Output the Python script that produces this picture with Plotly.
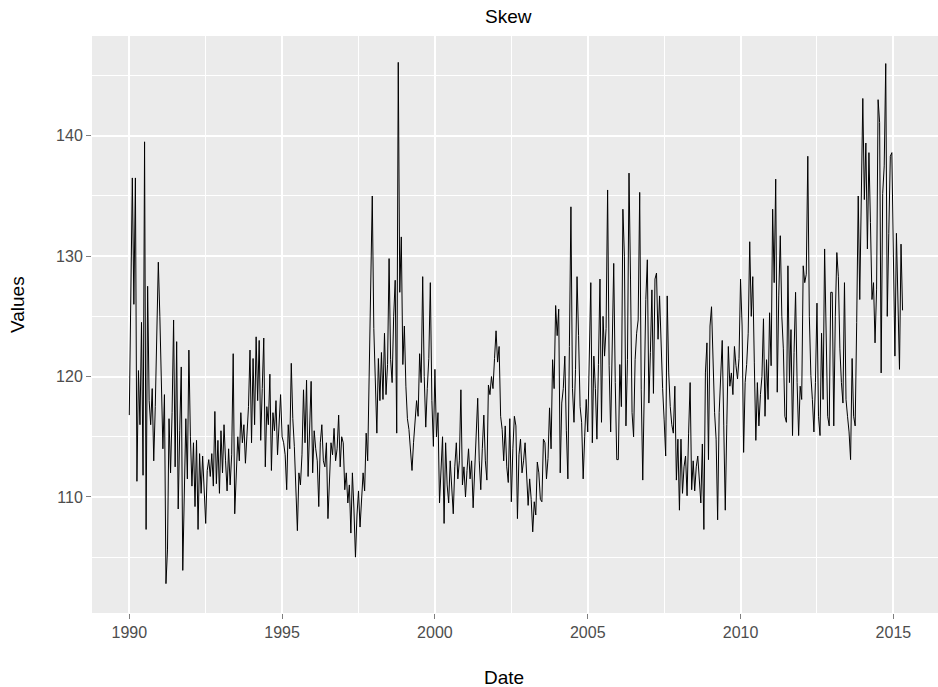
import plotly.graph_objects as go

# SKEW index, ~20 readings per year
v1990 = [116.8, 129.0, 136.5, 126.0, 136.5, 111.3, 120.5, 116.0, 124.5, 111.8, 139.5, 107.3, 127.5, 118.0, 116.0, 119.0, 113.0, 117.5, 124.0, 129.5]
v1991 = [125.0, 118.3, 114.0, 118.5, 102.8, 105.6, 116.5, 112.0, 117.0, 124.7, 112.5, 122.9, 109.0, 115.5, 120.8, 103.9, 111.0, 116.5, 111.5, 122.2]
v1992 = [115.0, 110.9, 114.5, 109.2, 114.7, 107.3, 113.6, 110.3, 113.4, 110.9, 107.8, 112.2, 113.1, 111.7, 113.6, 110.9, 117.1, 111.1, 114.7, 110.3]
v1993 = [115.5, 112.0, 116.0, 113.0, 110.5, 114.0, 111.0, 113.5, 121.9, 108.6, 112.0, 115.0, 113.0, 117.0, 114.5, 116.0, 112.8, 115.5, 117.5, 122.2]
v1994 = [114.5, 121.5, 116.0, 123.3, 118.0, 123.0, 114.7, 119.0, 123.2, 112.5, 117.5, 116.0, 120.2, 112.2, 117.0, 115.5, 118.0, 113.5, 116.0, 118.5]
v1995 = [115.0, 114.5, 113.5, 110.6, 116.0, 114.0, 121.1, 116.5, 114.2, 110.8, 107.2, 112.0, 111.0, 113.5, 118.9, 114.5, 119.7, 111.7, 115.0, 119.6]
v1996 = [112.0, 115.5, 114.0, 113.0, 109.2, 114.5, 116.0, 113.0, 112.5, 114.5, 108.2, 111.5, 114.5, 113.5, 115.7, 113.0, 114.0, 116.8, 112.5, 115.0]
v1997 = [114.5, 110.6, 112.0, 109.5, 111.0, 107.0, 112.0, 109.0, 105.0, 108.5, 110.5, 107.5, 109.5, 112.0, 110.5, 115.3, 113.0, 120.8, 126.4, 135.0]
v1998 = [124.0, 119.0, 115.3, 121.5, 118.0, 122.0, 118.1, 123.6, 118.5, 121.0, 129.8, 121.4, 119.5, 125.0, 128.0, 115.3, 146.1, 127.0, 131.6, 121.0]
v1999 = [124.2, 119.2, 116.5, 115.6, 114.0, 112.2, 114.5, 116.0, 118.0, 116.7, 121.9, 119.5, 128.3, 120.0, 115.8, 119.0, 121.5, 127.8, 118.0, 114.2]
v2000 = [120.6, 115.0, 117.0, 109.5, 113.0, 115.0, 107.8, 114.5, 111.0, 109.5, 113.0, 110.5, 108.6, 112.5, 114.5, 111.5, 113.0, 118.9, 111.0, 112.5]
v2001 = [110.0, 112.2, 114.0, 111.5, 113.0, 109.1, 112.0, 113.9, 118.2, 113.0, 110.6, 114.0, 116.8, 113.0, 111.4, 119.3, 118.5, 120.0, 119.0, 121.5]
v2002 = [123.8, 121.2, 122.5, 116.7, 115.6, 113.0, 115.9, 112.5, 111.2, 116.5, 109.6, 114.0, 116.7, 115.9, 108.2, 113.5, 114.8, 112.0, 113.0, 114.5]
v2003 = [111.2, 109.3, 111.5, 109.8, 107.1, 109.6, 108.5, 112.9, 112.0, 109.8, 109.6, 114.8, 114.5, 111.5, 113.2, 117.4, 114.0, 121.4, 119.0, 125.9]
v2004 = [123.4, 125.6, 112.0, 117.8, 119.0, 121.7, 115.5, 111.5, 122.5, 134.1, 119.0, 116.2, 120.6, 128.3, 123.4, 117.5, 116.2, 111.5, 115.0, 118.1]
v2005 = [115.4, 123.4, 127.8, 114.5, 121.7, 119.0, 114.8, 121.0, 128.1, 116.2, 125.0, 121.7, 124.0, 135.5, 120.9, 115.4, 121.7, 129.4, 119.5, 113.1]
v2006 = [113.1, 121.0, 117.5, 133.9, 130.0, 115.9, 121.4, 136.9, 128.1, 117.0, 115.0, 121.4, 123.6, 124.7, 135.3, 118.9, 111.4, 118.1, 126.4, 129.7]
v2007 = [117.8, 122.0, 127.2, 118.6, 128.1, 128.6, 123.1, 126.7, 122.5, 119.0, 116.4, 113.4, 126.7, 120.3, 117.5, 116.0, 115.3, 119.2, 111.4, 114.8]
v2008 = [108.9, 114.8, 110.3, 112.5, 113.4, 110.1, 115.3, 119.5, 110.6, 113.0, 110.5, 112.5, 113.4, 111.0, 109.5, 114.4, 107.3, 120.3, 122.8, 113.1]
v2009 = [124.2, 125.8, 120.3, 117.0, 114.8, 108.1, 117.0, 119.5, 123.0, 115.9, 108.9, 116.0, 122.5, 119.2, 120.3, 118.5, 122.5, 120.9, 119.8, 121.5]
v2010 = [128.1, 124.2, 113.7, 119.5, 121.0, 123.6, 131.2, 125.0, 128.3, 121.2, 114.7, 119.5, 115.9, 118.5, 120.0, 124.8, 116.7, 121.4, 118.1, 125.3]
v2011 = [120.9, 133.9, 127.8, 136.4, 118.7, 126.7, 131.7, 125.0, 122.3, 116.7, 116.2, 129.2, 119.5, 123.9, 115.1, 122.0, 127.0, 119.5, 115.1, 119.2]
v2012 = [118.1, 129.2, 127.8, 128.5, 138.3, 125.0, 120.1, 118.1, 115.4, 119.5, 126.1, 116.7, 115.1, 123.6, 118.1, 130.6, 125.0, 116.7, 115.9, 127.0]
v2013 = [127.0, 115.9, 125.0, 130.3, 128.3, 122.3, 119.5, 117.8, 127.8, 118.1, 116.7, 115.4, 113.1, 121.5, 116.7, 115.9, 124.5, 135.0, 126.4, 133.6]
v2014 = [143.1, 134.7, 139.4, 130.6, 138.6, 132.8, 126.4, 127.8, 122.8, 127.2, 143.0, 141.1, 120.3, 135.2, 137.5, 146.0, 125.0, 131.9, 138.3, 138.6]
v2015 = [128.0, 121.7, 131.9, 125.6, 120.6, 131.0, 125.5]

year_lists = [
    (1990, v1990), (1991, v1991), (1992, v1992), (1993, v1993), (1994, v1994),
    (1995, v1995), (1996, v1996), (1997, v1997), (1998, v1998), (1999, v1999),
    (2000, v2000), (2001, v2001), (2002, v2002), (2003, v2003), (2004, v2004),
    (2005, v2005), (2006, v2006), (2007, v2007), (2008, v2008), (2009, v2009),
    (2010, v2010), (2011, v2011), (2012, v2012), (2013, v2013), (2014, v2014),
    (2015, v2015),
]

x_ticks = [1990, 1995, 2000, 2005, 2010, 2015]
y_ticks = [110, 120, 130, 140]

dates, values = [], []
for yr, vals in year_lists:
    for i, v in enumerate(vals):
        dates.append(yr + i / 20.0)
        values.append(v)

fig = go.Figure()
fig.add_trace(go.Scatter(x=dates, y=values, mode="lines",
                         line=dict(color="black", width=1), showlegend=False))

W, H = 938, 687
L, R, T, B = 92, 938, 36, 613

FONT = "Liberation Sans, Arial, Helvetica, sans-serif"

fig.update_layout(
    width=W, height=H,
    margin=dict(l=L, r=W - R, t=T, b=H - B, pad=0),
    paper_bgcolor="white",
    plot_bgcolor="#EBEBEB",
    font=dict(family=FONT, color="#4D4D4D", size=16),
    showlegend=False,
    xaxis=dict(
        range=[1988.78, 2016.46],
        tickmode="array", tickvals=x_ticks, ticktext=[str(t) for t in x_ticks],
        ticks="outside", ticklen=5, tickwidth=1.2, tickcolor="#7F7F7F",
        tickfont=dict(size=16, color="#4D4D4D", family=FONT),
        showgrid=True, gridcolor="white", gridwidth=2,
        zeroline=False, showline=False,
        minor=dict(tickmode="linear", tick0=1987.5, dtick=5, showgrid=True,
                   gridcolor="white", gridwidth=0.8, ticks=""),
    ),
    yaxis=dict(
        range=[100.36, 148.29],
        tickmode="array", tickvals=y_ticks, ticktext=[str(t) for t in y_ticks],
        ticks="outside", ticklen=5, tickwidth=1.2, tickcolor="#7F7F7F",
        tickfont=dict(size=16, color="#4D4D4D", family=FONT),
        showgrid=True, gridcolor="white", gridwidth=2,
        zeroline=False, showline=False,
        minor=dict(tickmode="linear", tick0=105, dtick=10, showgrid=True,
                   gridcolor="white", gridwidth=0.8, ticks=""),
    ),
)

def px_to_paper_x(px):
    return (px - L) / (R - L)

def px_to_paper_y(py):
    return (B - py) / (B - T)

fig.add_annotation(text="Skew", x=px_to_paper_x(508), y=px_to_paper_y(16),
                   xref="paper", yref="paper", showarrow=False,
                   xanchor="center", yanchor="middle",
                   font=dict(size=19, color="black", family=FONT))
fig.add_annotation(text="Date", x=px_to_paper_x(504), y=px_to_paper_y(677),
                   xref="paper", yref="paper", showarrow=False,
                   xanchor="center", yanchor="middle",
                   font=dict(size=19, color="black", family=FONT))
fig.add_annotation(text="Values", x=px_to_paper_x(17), y=px_to_paper_y(305),
                   xref="paper", yref="paper", showarrow=False, textangle=-90,
                   xanchor="center", yanchor="middle",
                   font=dict(size=19, color="black", family=FONT))

# remove the default page margin so the figure sits at the window's top-left corner
fig.write_html(
    "out.html",
    config={"displayModeBar": False},
    post_script="document.body.style.margin='0';document.body.style.padding='0';"
                "document.documentElement.style.overflow='hidden';",
)
